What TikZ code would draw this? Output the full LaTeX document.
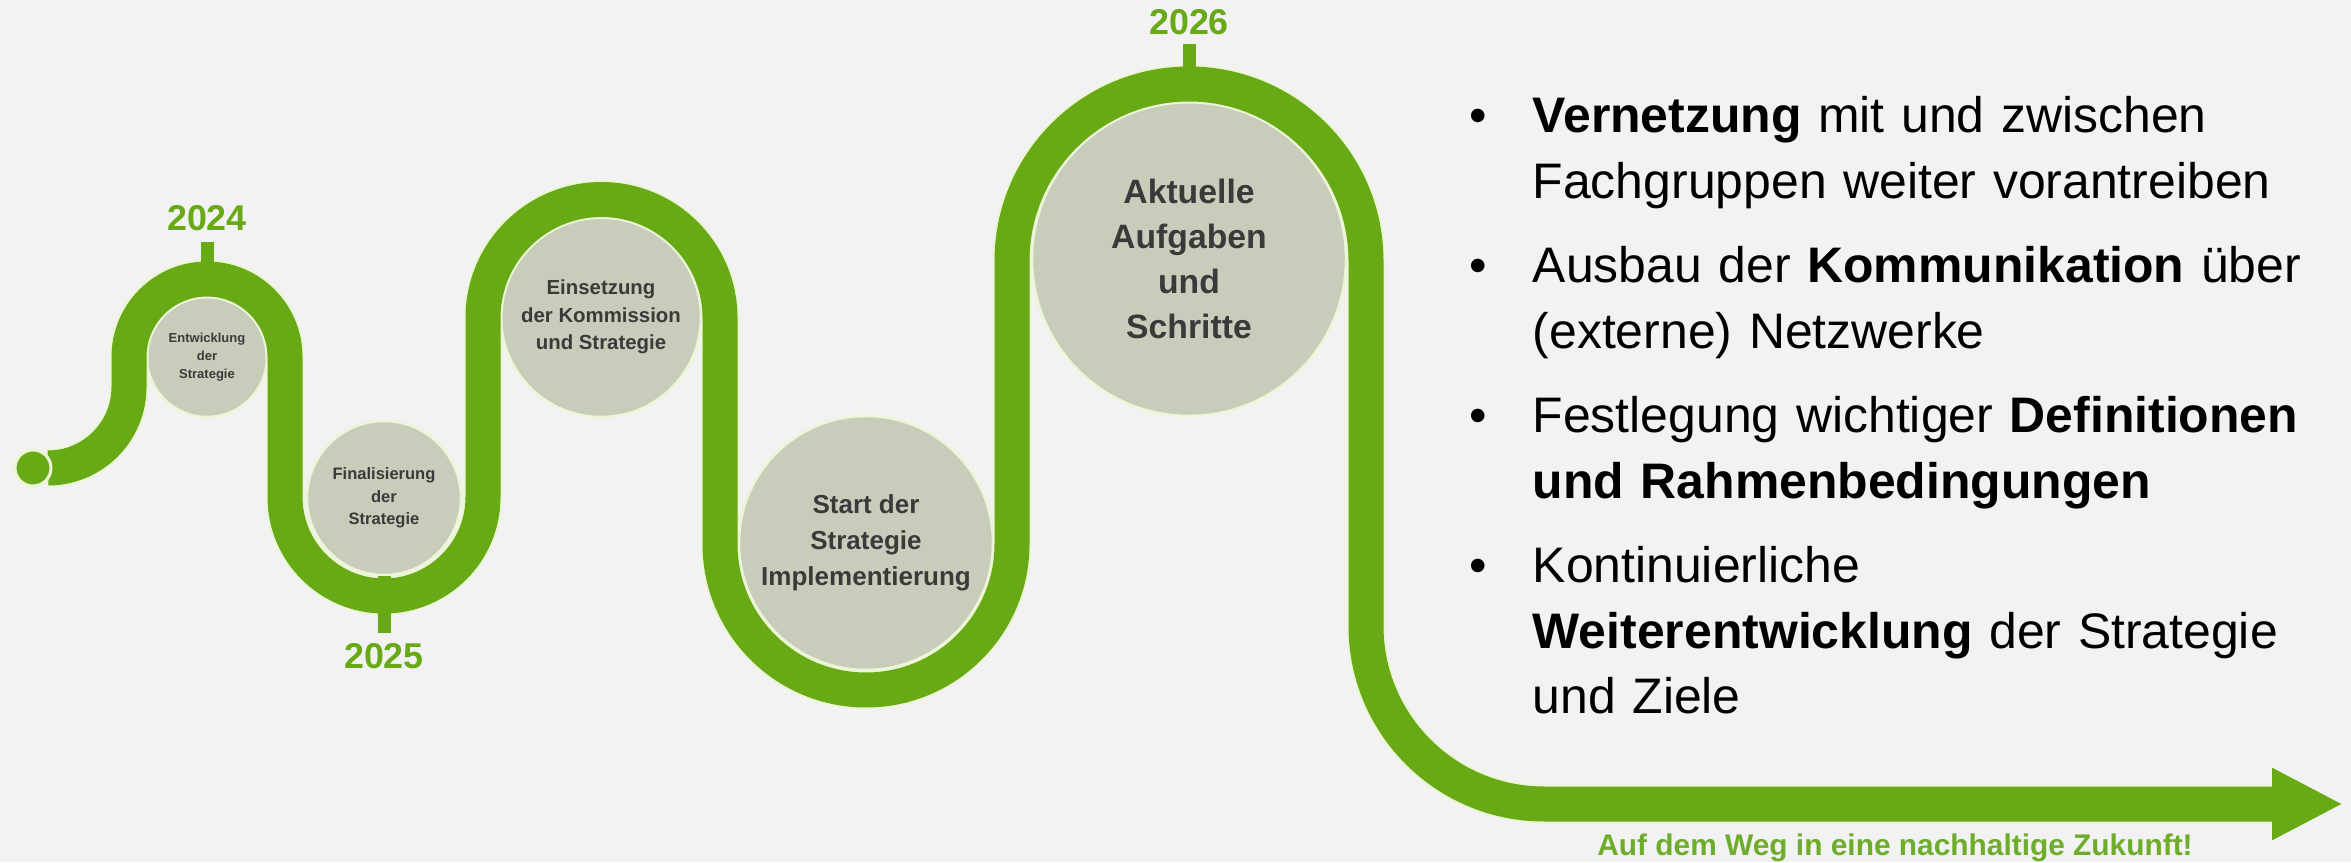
\documentclass[tikz,border=0pt]{standalone}
\usepackage{fontspec}
\setmainfont{Liberation Sans}
\usetikzlibrary{positioning,arrows.meta}
\definecolor{bg}{RGB}{242,242,242}
\definecolor{leaf}{RGB}{104,169,22}
\definecolor{leaftext}{RGB}{110,173,44}
\definecolor{sage}{RGB}{199,205,186}
\definecolor{paleedge}{RGB}{236,246,214}
\definecolor{ink}{RGB}{58,58,58}

\begin{document}
\begin{tikzpicture}[x=0.1mm, y=0.1mm,
    track/.style={draw=leaf, line width=3.5mm, preaction={draw=paleedge, line width=3.9mm}},
    yeartick/.style={draw=leaf, line width=1.3mm},
    year/.style={text=leaf, font=\fontsize{10.2}{12}\selectfont\bfseries, inner sep=0pt},
    stage/.style={circle, fill=sage, draw=paleedge, line width=0.25mm, inner sep=0pt, align=center, text=ink},
    aim/.style={anchor=base west, inner sep=0pt, text width=90mm, align=left, font=\fontsize{14.2}{18.5}\selectfont},
    aimdot/.style={anchor=base, inner sep=0pt, font=\fontsize{14.2}{18.5}\selectfont}]

\fill[bg] (0,0) rectangle (2351,862);
\useasboundingbox (0,0) rectangle (2351,862);

\node [stage, minimum size=12mm, font=\fontsize{3.7}{5.1}\selectfont\bfseries] (c1) at (207,505) {Entwicklung\\der\\Strategie};
\node [stage, minimum size=15.4mm, font=\fontsize{4.7}{6.4}\selectfont\bfseries] (c2) at (384,364) {Finalisierung\\der\\Strategie};
\node [stage, minimum size=20mm, font=\fontsize{5.8}{7.8}\selectfont\bfseries] (c3) at (601,545) {Einsetzung\\der Kommission\\und Strategie};
\node [stage, minimum size=25.4mm, font=\fontsize{7.4}{10.2}\selectfont\bfseries] (c4) at (866,319) {Start der\\Strategie\\Implementierung};
\node [stage, minimum size=31.4mm, font=\fontsize{9.6}{12.8}\selectfont\bfseries] (c5) at (1189,603) {Aktuelle\\Aufgaben\\und\\Schritte};

\node [year, above=6.4mm of c1] (y24) {2024};
\node [year, below=6.7mm of c2] (y25) {2025};
\node [year, above=6.5mm of c5] (y26) {2026};

\coordinate (begin) at (48,394);
\coordinate (goal) at (2343,58);
\draw [track, -{Triangle[width=6.7mm,length=7.1mm]}] (begin) arc[start angle=270, end angle=360, radius=81]
  -- (129,505) arc[start angle=180, end angle=0, radius=78]
  -- (285,365) arc[start angle=180, end angle=360, radius=99]
  -- (483,544) arc[start angle=180, end angle=0, radius=118.5]
  -- (720,318) arc[start angle=180, end angle=360, radius=146]
  -- (1012,601) arc[start angle=180, end angle=0, radius=177]
  -- (1366,236) arc[start angle=180, end angle=270, radius=178]
  -- (goal);

\draw [yeartick] ([yshift=-1mm]y24.south) -- (c1.north);
\draw [yeartick] ([yshift=1mm]y25.north) -- (c2.south);
\draw [yeartick] ([yshift=-0.8mm]y26.south) -- (c5.north);

\node [circle, fill=leaf, draw=paleedge, line width=0.3mm, minimum size=3.6mm, inner sep=0pt] (start) at (33,394) {};

\node [aim] (b1) at (1532,729) {\textbf{Vernetzung} mit und zwischen\\Fachgruppen weiter vorantreiben};
\node [aim] (b2) at ([yshift=-15mm]b1.base west) {Ausbau der \textbf{Kommunikation} über\\(externe) Netzwerke};
\node [aim] (b3) at ([yshift=-15mm]b2.base west) {Festlegung wichtiger \textbf{Definitionen}\\\textbf{und Rahmenbedingungen}};
\node [aim] (b4) at ([yshift=-15mm]b3.base west) {Kontinuierliche\\\textbf{Weiterentwicklung} der Strategie\\und Ziele};
\node [aimdot] (d1) at ([xshift=-5.4mm]b1.base west) {\textbullet};
\node [aimdot] (d2) at ([xshift=-5.4mm]b2.base west) {\textbullet};
\node [aimdot] (d3) at ([xshift=-5.4mm]b3.base west) {\textbullet};
\node [aimdot] (d4) at ([xshift=-5.4mm]b4.base west) {\textbullet};

\node [anchor=base, inner sep=0pt, text=leaftext, font=\fontsize{8.5}{10}\selectfont\bfseries] (motto) at (1895,7) {Auf dem Weg in eine nachhaltige Zukunft!};

\end{tikzpicture}
\end{document}
